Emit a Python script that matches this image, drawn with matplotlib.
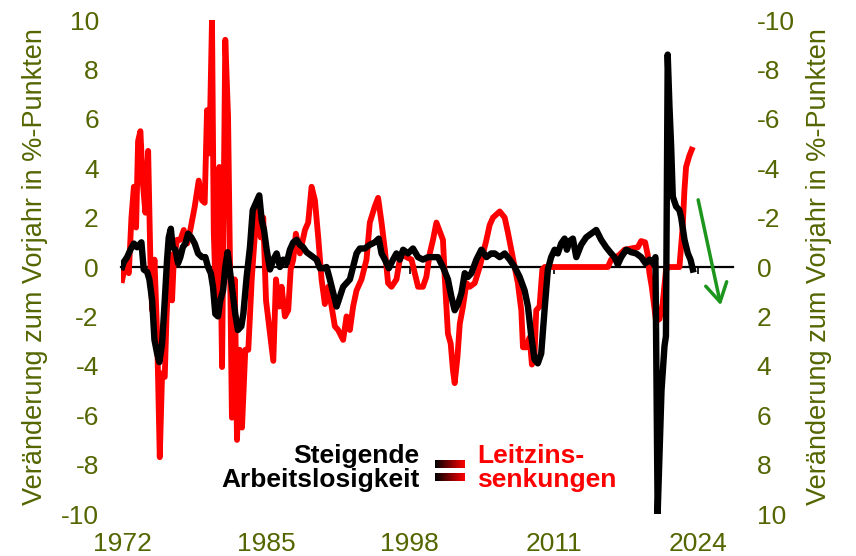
import numpy as np
import matplotlib
matplotlib.use("Agg")
from matplotlib import pyplot as plt
from matplotlib.colors import LinearSegmentedColormap

plt.rcParams['font.family'] = ['Liberation Sans', 'DejaVu Sans']
plt.rcParams['axes.unicode_minus'] = False

OLIVE = '#536600'

# Leitzins, Veränderung zum Vorjahr (linke Achse)
red_years = [1972.00, 1972.30, 1972.60, 1972.84, 1973.06, 1973.26, 1973.44, 1973.65, 1973.87, 1974.10,
             1974.35, 1974.55, 1974.71, 1974.92, 1975.16, 1975.40, 1975.61, 1975.85, 1976.00, 1976.27,
             1976.51, 1976.67, 1976.96, 1977.26, 1977.57, 1977.87, 1978.16, 1978.56, 1978.92, 1979.22,
             1979.46, 1979.67, 1979.88, 1980.12, 1980.28, 1980.48, 1980.78, 1981.03, 1981.32, 1981.57,
             1981.77, 1981.92, 1982.17, 1982.38, 1982.62, 1982.83, 1983.13, 1983.40, 1983.71, 1984.00,
             1984.30, 1984.52, 1984.75, 1985.00, 1985.36, 1985.66, 1985.90, 1986.20, 1986.41, 1986.71,
             1987.01, 1987.23, 1987.46, 1987.70, 1988.06, 1988.52, 1988.81, 1989.12, 1989.42, 1989.72,
             1990.02, 1990.32, 1990.62, 1990.93, 1991.22, 1991.52, 1991.97, 1992.28, 1992.58, 1992.87,
             1993.18, 1993.63, 1994.08, 1994.38, 1994.83, 1995.13, 1995.44, 1995.74, 1996.03, 1996.34,
             1996.79, 1997.09, 1997.39, 1997.69, 1998.15, 1998.44, 1998.74, 1999.18, 1999.49, 1999.80,
             2000.09, 2000.40, 2000.70, 2000.99, 2001.15, 2001.30, 2001.44, 2001.69, 2001.90, 2002.05,
             2002.30, 2002.51, 2002.80, 2003.11, 2003.41, 2003.86, 2004.31, 2004.61, 2004.92, 2005.21,
             2005.51, 2006.12, 2006.57, 2006.86, 2007.16, 2007.47, 2007.76, 2008.07, 2008.22, 2008.52,
             2008.82, 2009.03, 2009.27, 2009.42, 2009.72, 2009.97, 2010.18, 2015.89, 2016.19, 2016.49,
             2016.95, 2017.40, 2018.00, 2018.60, 2018.90, 2019.26, 2019.49, 2019.65, 2019.86, 2020.06,
             2020.25, 2020.56, 2020.84, 2021.15, 2021.46, 2022.36, 2022.65, 2022.81, 2022.96, 2023.25,
             2023.47]
red_vals = [-0.53, 0.15, -0.25, 2.0, 3.25, 1.6, 5.1, 5.5, 3.4, 2.2,
            4.7, 0.3, -1.75, 0.3, -2.7, -7.7, -4.3, -4.45, -2.15, 0.55,
            -1.35, 0.3, 1.1, 1.1, 1.5, 0.95, 1.5, 2.45, 3.5, 2.7,
            2.6, 6.35, 4.6, 10.0, 1.4, -1.35, 4.05, -4.05, 9.2, 6.1,
            -0.65, -6.1, -0.5, -7.0, -3.35, -6.5, -3.35, -3.35, -0.5, 1.35,
            2.3, 1.2, 2.0, -1.35, -2.7, -3.8, -0.5, -1.6, -0.8, -2.0,
            -1.75, -0.1, 0.3, 1.35, 0.55, 1.5, 1.8, 3.25, 2.7, 1.2,
            -0.5, -1.5, -0.8, -1.6, -2.4, -2.55, -2.95, -2.0, -2.55, -1.6,
            -0.95, -0.5, 0.3, 1.8, 2.45, 2.8, 1.8, 0.7, -0.65, -0.8,
            -0.5, 0.3, 0.55, 0.4, 0.3, -0.25, -0.8, -0.8, -0.4, 0.55,
            1.1, 1.8, 1.45, 1.1, -0.4, -1.6, -2.7, -3.1, -4.2, -4.7,
            -3.65, -2.3, -1.6, -0.65, -0.8, -0.65, 0.0, 0.55, 1.1, 1.7,
            2.0, 2.25, 2.0, 1.4, 0.7, 0.0, -0.65, -1.75, -3.25, -3.25,
            -2.85, -3.95, -3.5, -1.75, -1.6, -0.1, 0.0, 0.0, 0.3, 0.35,
            0.5, 0.7, 0.75, 0.8, 1.05, 1.0, 0.5, -0.25, -0.8, -1.5,
            -2.2, -2.1, -1.5, -0.1, 0.0, 0.0, 1.6, 3.1, 4.05, 4.5,
            4.75]

# Arbeitslosenquote, Veränderung zum Vorjahr (rechte Achse, invertiert)
black_years = [1972.00, 1972.15, 1972.45, 1972.75, 1973.06, 1973.35, 1973.74, 1973.95, 1974.26, 1974.46,
               1974.71, 1974.92, 1975.16, 1975.36, 1975.61, 1975.85, 1976.06, 1976.21, 1976.40, 1976.57,
               1976.81, 1977.05, 1977.26, 1977.48, 1977.71, 1977.96, 1978.25, 1978.56, 1978.86, 1979.22,
               1979.52, 1979.76, 1980.01, 1980.21, 1980.42, 1980.66, 1980.87, 1981.12, 1981.32, 1981.53,
               1981.77, 1981.99, 1982.22, 1982.46, 1982.77, 1982.95, 1983.25, 1983.55, 1983.80, 1984.09,
               1984.39, 1984.61, 1984.82, 1985.06, 1985.36, 1985.66, 1985.96, 1986.26, 1986.56, 1986.86,
               1987.16, 1987.46, 1987.77, 1988.06, 1988.36, 1988.67, 1988.97, 1989.27, 1989.57, 1989.87,
               1990.17, 1990.47, 1990.77, 1991.07, 1991.38, 1991.68, 1991.97, 1992.28, 1992.58, 1992.87,
               1993.18, 1993.48, 1993.93, 1994.38, 1994.83, 1995.19, 1995.44, 1995.74, 1996.10, 1996.48,
               1996.79, 1997.09, 1997.39, 1997.83, 1998.28, 1998.74, 1999.18, 1999.64, 2000.09, 2000.54,
               2000.99, 2001.44, 2001.75, 2002.05, 2002.35, 2002.66, 2002.96, 2003.25, 2003.56, 2004.01,
               2004.46, 2004.92, 2005.36, 2005.66, 2006.12, 2006.57, 2007.02, 2007.47, 2007.92, 2008.37,
               2008.67, 2008.97, 2009.27, 2009.56, 2009.87, 2010.17, 2010.47, 2010.77, 2011.08, 2011.37,
               2011.67, 2011.98, 2012.19, 2012.43, 2012.73, 2013.04, 2013.48, 2013.93, 2014.38, 2014.84,
               2015.29, 2015.74, 2016.19, 2016.49, 2016.79, 2017.10, 2017.55, 2018.00, 2018.45, 2018.90,
               2019.29, 2019.65, 2019.95, 2020.19, 2020.39, 2020.56, 2020.74, 2021.01, 2021.14, 2021.30,
               2021.46, 2021.61, 2021.76, 2022.06, 2022.36, 2022.52, 2022.82, 2023.12, 2023.36, 2023.57]
black_vals = [0.0, -0.2, -0.4, -0.7, -0.95, -0.8, -1.0, 0.1, 0.2, 0.5,
              1.35, 2.95, 3.5, 3.85, 3.1, 1.35, -0.3, -1.2, -1.55, -0.8,
              -0.7, -0.15, -0.4, -0.8, -0.95, -1.35, -1.2, -0.95, -0.55, -0.4,
              -0.4, 0.0, 0.25, 0.8, 1.9, 2.0, 1.35, 0.95, 0.0, -0.6,
              0.25, 1.05, 1.9, 2.55, 2.4, 1.9, 0.4, -0.8, -2.3, -2.6,
              -2.9, -1.9, -1.5, -0.7, 0.1, -0.3, -0.55, 0.0, -0.3, -0.15,
              -0.7, -1.0, -1.1, -0.9, -0.8, -0.6, -0.5, -0.4, -0.3, 0.05,
              0.05, 0.0, 0.5, 1.05, 1.6, 1.2, 0.8, 0.65, 0.5, 0.0,
              -0.55, -0.75, -0.75, -0.9, -1.0, -1.15, -0.55, -0.3, 0.05, -0.3,
              -0.55, -0.3, -0.7, -0.55, -0.75, -0.4, -0.3, -0.4, -0.4, -0.4,
              0.0, 0.5, 1.2, 1.75, 1.5, 1.05, 0.25, 0.4, 0.25, -0.3,
              -0.7, -0.4, -0.55, -0.55, -0.4, -0.55, -0.3, 0.0, 0.4, 0.95,
              1.6, 2.8, 3.75, 3.9, 3.5, 1.75, 0.1, -0.4, -0.7, -0.55,
              -0.95, -1.15, -0.7, -1.05, -1.15, -0.4, -0.9, -1.2, -1.35, -1.5,
              -1.1, -0.8, -0.55, -0.4, -0.1, -0.4, -0.7, -0.6, -0.55, -0.4,
              -0.15, -0.3, -0.15, -0.4, 10.0, 7.5, 5.0, 3.2, 2.8, -8.6,
              -6.5, -4.9, -2.85, -2.45, -2.3, -2.0, -1.1, -0.55, -0.3, 0.1]

year_ticks = [1972, 1985, 1998, 2011, 2024]
left_ticks = [10, 8, 6, 4, 2, 0, -2, -4, -6, -8, -10]
ylabel = "Veränderung zum Vorjahr in %-Punkten"

fig = plt.figure(figsize=(8.56, 5.56), dpi=100)
ax = fig.add_axes([0.1414, 0.0755, 0.7149, 0.8885])

ax.plot(red_years, red_vals, color='#ff0000', lw=4.2, zorder=3)

# gradient "=" between the two legend texts
grad = np.linspace(0, 1, 256).reshape(1, -1)
cmap = LinearSegmentedColormap.from_list('bk_red', ['black', '#ff0000'])
ax.imshow(grad, cmap=cmap, aspect='auto', extent=[2000.25, 2002.96, -8.14, -7.85], zorder=4)
ax.imshow(grad, cmap=cmap, aspect='auto', extent=[2000.25, 2002.96, -8.66, -8.34], zorder=4)

ax.text(1998.9, -8.15, "Steigende\nArbeitslosigkeit", ha='right', va='center',
        fontsize=19, fontweight='bold', color='black', linespacing=1.0)
ax.text(2004.1, -8.15, "Leitzins-\nsenkungen", ha='left', va='center',
        fontsize=19, fontweight='bold', color='#ff0000', linespacing=1.0)

ax.annotate("", xy=(2026.15, -1.66), xytext=(2024.0, 2.83),
            arrowprops=dict(arrowstyle='->,head_length=0.6,head_width=0.35',
                            color='#1e961e', lw=2.5, mutation_scale=22))

ax.set_xlim(1971.9, 2027.2)
ax.set_ylim(-10, 10)
ax.set_yticks(left_ticks)
ax.set_yticklabels([str(t) for t in left_ticks])
ax.tick_params(axis='y', length=0, pad=16, labelsize=19, labelcolor=OLIVE)
ax.set_xticks(year_ticks)
ax.tick_params(axis='x', labelbottom=False, direction='out', length=5, width=1.2)
for s in ['top', 'right', 'left']:
    ax.spines[s].set_visible(False)
ax.spines['bottom'].set_position(('data', 0))
ax.spines['bottom'].set_linewidth(1.6)
ax.set_ylabel(ylabel, fontsize=19.5, color=OLIVE)
ax.yaxis.set_label_coords(-0.12, 0.5)

sec = ax.secondary_xaxis('bottom')
sec.set_xticks(year_ticks)
sec.set_xticklabels([str(y) for y in year_ticks])
sec.tick_params(length=0, pad=13, labelsize=19, labelcolor=OLIVE)
sec.spines['bottom'].set_visible(False)

ax2 = ax.twinx()
ax2.plot(black_years, black_vals, color='black', lw=4.6, zorder=3)
ax2.set_ylim(10, -10)
ax2.set_yticks(left_ticks)
ax2.set_yticklabels([str(t) for t in left_ticks])
ax2.tick_params(axis='y', length=0, pad=17, labelsize=19, labelcolor=OLIVE)
for s in ['top', 'right', 'left', 'bottom']:
    ax2.spines[s].set_visible(False)
ax2.set_ylabel(ylabel, fontsize=19.5, color=OLIVE)
ax2.yaxis.set_label_coords(1.12, 0.5)

plt.savefig("out.png", dpi=100)
